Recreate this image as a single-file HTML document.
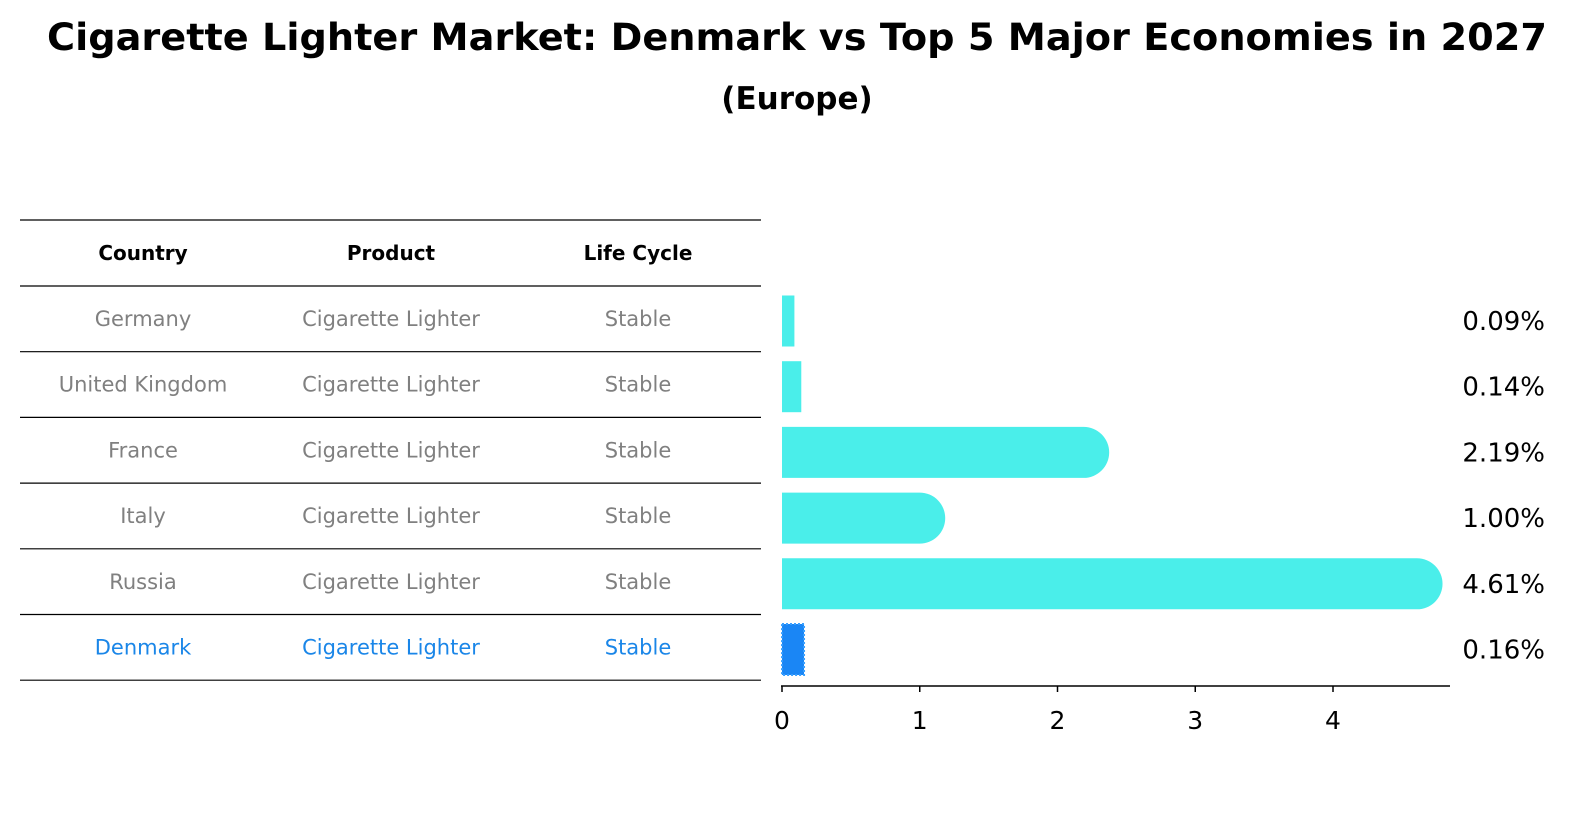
<!DOCTYPE html>
<html><head><meta charset="utf-8"><style>
body{margin:0;background:#fff;}
svg{display:block;font-family:"DejaVu Sans","Liberation Sans",sans-serif;}
</style></head><body>
<svg id="c" width="1589" height="823" viewBox="0 0 1589 823" xmlns="http://www.w3.org/2000/svg">
<text x="797" y="50" text-anchor="middle" font-size="37" font-weight="bold" textLength="1500" lengthAdjust="spacingAndGlyphs">Cigarette Lighter Market: Denmark vs Top 5 Major Economies in 2027</text>
<text x="797" y="109" text-anchor="middle" font-size="31" font-weight="bold">(Europe)</text>
<g id="table"></g>
<g id="bars"></g>
</svg>
<script>
const countries=["Germany","United Kingdom","France","Italy","Russia","Denmark"];
const products=["Cigarette Lighter","Cigarette Lighter","Cigarette Lighter","Cigarette Lighter","Cigarette Lighter","Cigarette Lighter"];
const lifeCycles=["Stable","Stable","Stable","Stable","Stable","Stable"];
const values=[0.09,0.14,2.19,1.00,4.61,0.16];
const valueLabels=["0.09%","0.14%","2.19%","1.00%","4.61%","0.16%"];
const xTicks=[0,1,2,3,4];
const NS="http://www.w3.org/2000/svg";
function mk(t,a,p){const e=document.createElementNS(NS,t);for(const k in a)e.setAttribute(k,a[k]);p.appendChild(e);return e;}
const x=v=>782+v*137.75;
const rowY=i=>286+i*65.7;
const tbl=document.getElementById('table');
const cols=[143,391,638];
[["Country","header-country"],["Product","header-product"],["Life Cycle","header-life-cycle"]].forEach((h,j)=>{
 const t=mk('text',{x:cols[j],y:260,'text-anchor':'middle','font-size':20,'font-weight':'bold'},tbl);t.textContent=h[0];
 
 
});
for(let i=0;i<=countries.length+1;i++){
 const yy=i==0?220:rowY(i-1);
 const l=mk('line',{x1:20,x2:761,y1:yy,y2:yy,stroke:'#000','stroke-width':1.2},tbl);
 
 
}
countries.forEach((c,i)=>{
 const col=i==countries.length-1?'#1a86e8':'#808080';
 [c,products[i],lifeCycles[i]].forEach((s,j)=>{
  const t=mk('text',{x:cols[j],y:rowY(i)+40,'text-anchor':'middle','font-size':21,fill:col},tbl);t.textContent=s;
  
  
 });
});
const g=document.getElementById('bars');
values.forEach((v,i)=>{
 const cy=rowY(i)+35, h=51, top=cy-h/2;
 const last=i==values.length-1;
 let el;
 if(last){
  el=mk('rect',{x:x(0),y:top,width:x(v)-x(0),height:h,fill:'#1a86f5',stroke:'#3aa0ff','stroke-width':2,'stroke-dasharray':'2 2'},g);
 } else if(v>=0.5){
  const r=h/2;
  el=mk('path',{d:`M${x(0)},${top} H${x(v)} A${r},${r} 0 0 1 ${x(v)},${top+h} H${x(0)} Z`,fill:'#4aeeea'},g);
 } else {
  el=mk('rect',{x:x(0),y:top,width:x(v)-x(0),height:h,fill:'#4aeeea'},g);
 }
 
 
 const t=mk('text',{x:1545,y:cy+9,'text-anchor':'end','font-size':26},g);t.textContent=valueLabels[i];
 
 
});
const ax=mk('line',{x1:781,x2:1450,y1:686,y2:686,stroke:'#000','stroke-width':1.5},g);


xTicks.forEach(v=>{
 const tk=mk('line',{x1:x(v),x2:x(v),y1:686,y2:692,stroke:'#000','stroke-width':1.5},g);
 
 
 const t=mk('text',{x:x(v),y:729,'text-anchor':'middle','font-size':25},g);t.textContent=v;
 
 
});
</script>
</body></html>
